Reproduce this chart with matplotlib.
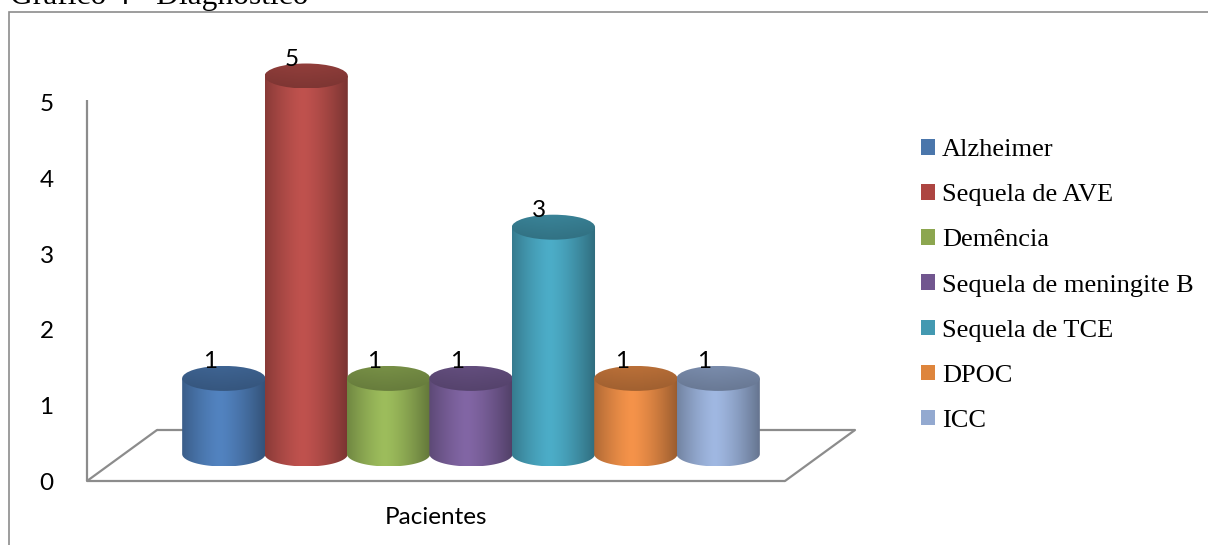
import numpy as np
import matplotlib
matplotlib.use("Agg")
import matplotlib.pyplot as plt
import matplotlib.transforms as mtransforms
from matplotlib.patches import Ellipse, PathPatch, Rectangle, Patch, ConnectionPatch
from matplotlib.path import Path
from matplotlib.colors import to_rgb

# ---- data ----
categories = ["Alzheimer", "Sequela de AVE", "Demência", "Sequela de meningite B",
              "Sequela de TCE", "DPOC", "ICC"]
values = [1, 5, 1, 1, 3, 1, 1]
bar_colors = ["#5283C0", "#C0524E", "#9DBD5C", "#8266A5", "#4CADC8", "#F5934A", "#A0B8E2"]
legend_colors = ["#4A76AB", "#AD4541", "#8CA64F", "#71568F", "#4399B1", "#DE853C", "#93A9D0"]
yticks = [0, 1, 2, 3, 4, 5]
group_label = "Pacientes"
title = "Gráfico 4 - Diagnóstico"

W, H, DPI = 1208, 545, 100
SANS = ["Lato", "DejaVu Sans"]
SERIF = ["Liberation Serif", "DejaVu Serif"]
GRAY = "#8c8c8c"

fig = plt.figure(figsize=(W / DPI, H / DPI), dpi=DPI)


def rect_px(x0, y0, x1, y1):
    """Pixel box (top-left origin) -> figure-fraction rect."""
    return [x0 / W, 1 - y1 / H, (x1 - x0) / W, (y1 - y0) / H]


ax = fig.add_axes(rect_px(87, 103, 785, 481))
n = len(values)
margin = 1.235
x0, x1 = -margin, n - 1 + margin
ax.set_xlim(x0, x1)
ax.set_ylim(0, 5)
for s in ax.spines.values():
    s.set_visible(False)
ax.set_xticks([])
ax.set_yticks(yticks)
ax.tick_params(axis="y", length=0, pad=24, labelsize=17.5)
for lbl in ax.get_yticklabels():
    lbl.set_fontfamily(SANS)
ax.patch.set_visible(False)


def shifted(dx, dy):
    return ax.transData + mtransforms.ScaledTranslation(dx / DPI, dy / DPI, fig.dpi_scale_trans)


# ---- floor and vertical axis ----
back = shifted(70, 51)
line_kw = dict(color=GRAY, lw=1.6, clip_on=False, zorder=1, solid_capstyle="butt")
ax.plot([x0, x1], [0, 0], **line_kw)
ax.plot([x0, x1], [0, 0], transform=back, **line_kw)
for xe in (x0, x1):
    cp = ConnectionPatch(xyA=(xe, 0), coordsA=ax.transData, xyB=(xe, 0), coordsB=back,
                         color=GRAY, lw=1.6, zorder=1)
    ax.add_artist(cp)
ax.plot([x0, x0], [0, 5.04], **line_kw)

# ---- cylinders ----
mid = shifted(35, 27)
half_w = 0.505
ell_h = 12.5 / 75.6


def shade(t):
    return 1.0 - 0.38 * np.abs((t - 0.45) / 0.55) ** 1.4


t = np.linspace(0, 1, 200)
for i, (v, c) in enumerate(zip(values, bar_colors)):
    base = np.array(to_rgb(c))
    xc = i
    theta = np.linspace(np.pi, 2 * np.pi, 80)
    arc = np.column_stack([xc + half_w * np.cos(theta), ell_h * np.sin(theta)])
    verts = np.vstack([[xc - half_w, v], arc, [xc + half_w, v], [xc - half_w, v]])
    codes = [Path.MOVETO] + [Path.LINETO] * (len(verts) - 2) + [Path.CLOSEPOLY]
    body = PathPatch(Path(verts, codes), transform=mid, facecolor="none", edgecolor="none")

    grad = np.clip(base[None, None, :] * shade(t)[None, :, None], 0, 1)
    im = ax.imshow(grad, extent=(xc - half_w, xc + half_w, -ell_h, v), aspect="auto",
                   interpolation="bilinear", transform=mid, zorder=3 + 2 * i)
    im.set_clip_box(fig.bbox)
    im.set_clip_path(body)

    # top cap: darker, slightly lighter toward the front
    rows = np.linspace(0, 1, 60)
    cap = base[None, None, :] * (0.66 + 0.10 * rows[:, None, None]) * (0.9 + 0.1 * shade(t)[None, :, None])
    cap_patch = Ellipse((xc, v), 2 * half_w, 2 * ell_h, transform=mid,
                        facecolor="none", edgecolor="none")
    imc = ax.imshow(np.clip(cap, 0, 1), extent=(xc - half_w, xc + half_w, v + ell_h, v - ell_h),
                    aspect="auto", interpolation="bilinear", transform=mid, zorder=4 + 2 * i)
    imc.set_clip_box(fig.bbox)
    imc.set_clip_path(cap_patch)

    ax.text(xc, v, f"{v}", transform=mid + mtransforms.ScaledTranslation(-14 / DPI, 10 / DPI, fig.dpi_scale_trans),
            ha="center", va="baseline", fontsize=17.5, family=SANS, zorder=100, clip_on=False)

ax.set_xlim(x0, x1)
ax.set_ylim(0, 5)

# ---- category label ----
fig.text(436 / W, 1 - 517 / H, group_label, ha="center", va="center", fontsize=17.5, family=SANS)

# ---- legend ----
handles = [Patch(facecolor=c, edgecolor="none") for c in legend_colors]
fig.legend(handles, categories, loc="center left", bbox_to_anchor=(921 / W, 1 - 285.5 / H),
           frameon=False, prop={"family": SERIF, "size": 19}, handlelength=0.53, handleheight=0.53,
           handletextpad=0.27, labelspacing=0.87, borderpad=0, borderaxespad=0)

# ---- frame and title ----
fig.add_artist(Rectangle((9 / W, -50 / H), (1300 - 9) / W, (545 - 12 + 50) / H,
                         transform=fig.transFigure, fill=False, edgecolor=GRAY, lw=1.2))
fig.text(10 / W, 1 - 4 / H, title, ha="left", va="baseline", fontsize=22.7, family=SERIF)

fig.savefig("out.png", dpi=DPI)
